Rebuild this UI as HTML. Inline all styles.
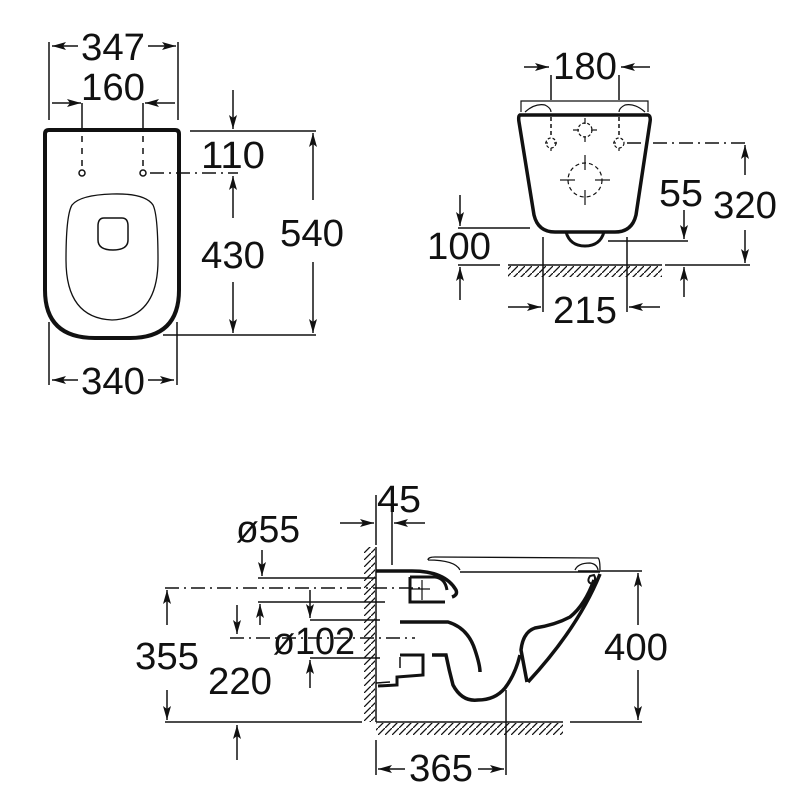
<!DOCTYPE html>
<html><head><meta charset="utf-8"><style>
html,body{margin:0;padding:0;background:#fff}
svg text{font-family:"Liberation Sans",sans-serif;fill:#111}
</style></head><body>
<svg width="800" height="800" viewBox="0 0 800 800" xmlns="http://www.w3.org/2000/svg">
<defs>
<marker id="a" viewBox="0 0 14 8" refX="14" refY="4" markerWidth="14" markerHeight="8" orient="auto-start-reverse" markerUnits="userSpaceOnUse"><path d="M0,0 L14,4 L0,8 L3,4 z" fill="#111"/></marker>
<pattern id="h" width="7" height="7" patternUnits="userSpaceOnUse"><path d="M7,0 L0,7" stroke="#111" stroke-width="1.3"/></pattern>
</defs>
<g stroke="#111" fill="none" stroke-width="1.5">
<!-- TOP LEFT -->
<line x1="49" y1="42" x2="49" y2="120"/><line x1="178" y1="42" x2="178" y2="120"/>
<line x1="78" y1="46" x2="52" y2="46" marker-end="url(#a)"/>
<line x1="148" y1="46" x2="176" y2="46" marker-end="url(#a)"/>
<line x1="52" y1="103" x2="81" y2="103" marker-end="url(#a)"/>
<line x1="175" y1="103" x2="145" y2="103" marker-end="url(#a)"/>
<line x1="82" y1="103" x2="82" y2="128"/><line x1="143" y1="103" x2="143" y2="128"/>
<line x1="82" y1="136" x2="82" y2="168" stroke-dasharray="6,6"/><line x1="143" y1="136" x2="143" y2="168" stroke-dasharray="6,6"/>
<circle cx="82" cy="173" r="3"/><circle cx="143" cy="173" r="3"/>
<line x1="150" y1="173" x2="238" y2="173" stroke-dasharray="14,5,2,5"/>
<path d="M45,134 Q45,130 49,130 L175,130 Q179,130 179,134 L179,290 Q179,338 130,338 L95,338 Q45,338 45,290 Z" stroke-width="4"/>
<path d="M112,194 Q145,193 153,205 Q158,215 158,260 Q158,318 112,320 Q66,318 66,260 Q66,215 72,205 Q80,195 112,194 Z" stroke-width="1.3"/>
<path d="M104,218 L122,218 Q128,218 128,226 L128,240 Q128,250 113,250 Q98,250 98,240 L98,226 Q98,218 104,218 Z" stroke-width="1.5"/>
<line x1="190" y1="131" x2="316" y2="131"/><line x1="163" y1="335" x2="316" y2="335"/>
<line x1="233" y1="90" x2="233" y2="129" marker-end="url(#a)"/>
<line x1="233" y1="218" x2="233" y2="176" marker-end="url(#a)"/>
<line x1="233" y1="282" x2="233" y2="333" marker-end="url(#a)"/>
<line x1="313" y1="200" x2="313" y2="133" marker-end="url(#a)"/>
<line x1="313" y1="262" x2="313" y2="333" marker-end="url(#a)"/>
<line x1="49" y1="322" x2="49" y2="385"/><line x1="177" y1="322" x2="177" y2="385"/>
<line x1="78" y1="380" x2="52" y2="380" marker-end="url(#a)"/>
<line x1="148" y1="380" x2="174" y2="380" marker-end="url(#a)"/>

<!-- TOP RIGHT -->
<line x1="551" y1="75" x2="551" y2="100"/><line x1="619" y1="75" x2="619" y2="100"/>
<line x1="524" y1="67" x2="549" y2="67" marker-end="url(#a)"/>
<line x1="650" y1="67" x2="621" y2="67" marker-end="url(#a)"/>
<path d="M521,112 L521,101 L648,101 L648,112" stroke-width="1.2"/>
<path d="M525,112 Q535,103 545,105 Q551,108 551,112 M645,112 Q635,103 625,105 Q619,108 619,112" stroke-width="1.2"/>
<path d="M520,115 L648,115 Q651,116 650,122 L636,215 Q632,232 615,232 L555,232 Q538,232 534,215 L519,122 Q518,116 520,115 Z" stroke-width="3.5"/>
<path d="M566,232 Q570,246 585,246 Q600,246 604,232" stroke-width="3"/>
<line x1="551" y1="117" x2="551" y2="135" stroke-dasharray="4,3"/><line x1="619" y1="117" x2="619" y2="135" stroke-dasharray="4,3"/>
<g stroke-width="1.2">
<circle cx="551" cy="143" r="5" stroke-dasharray="3,2"/><circle cx="619" cy="143" r="5" stroke-dasharray="3,2"/>
<line x1="545" y1="143" x2="548" y2="143"/><line x1="554" y1="143" x2="557" y2="143"/><line x1="551" y1="148" x2="551" y2="151"/>
<line x1="613" y1="143" x2="616" y2="143"/><line x1="619" y1="148" x2="619" y2="151"/>
<circle cx="585" cy="130" r="7" stroke-dasharray="3,2"/>
<line x1="573" y1="130" x2="579" y2="130"/><line x1="591" y1="130" x2="597" y2="130"/><line x1="585" y1="118" x2="585" y2="124"/><line x1="585" y1="136" x2="585" y2="142"/>
<circle cx="585" cy="180" r="17" stroke-dasharray="4,3"/>
<line x1="560" y1="180" x2="575" y2="180"/><line x1="595" y1="180" x2="610" y2="180"/><line x1="585" y1="155" x2="585" y2="170"/><line x1="585" y1="190" x2="585" y2="205"/>
</g>
<line x1="627" y1="143" x2="750" y2="143" stroke-dasharray="14,5,2,5"/>
<line x1="745" y1="175" x2="745" y2="145" marker-end="url(#a)"/>
<line x1="745" y1="230" x2="745" y2="263" marker-end="url(#a)"/>
<line x1="665" y1="265" x2="750" y2="265"/>
<line x1="684" y1="210" x2="684" y2="239" marker-end="url(#a)"/>
<line x1="608" y1="241" x2="688" y2="241"/>
<line x1="460" y1="195" x2="460" y2="226" marker-end="url(#a)"/>
<line x1="458" y1="228" x2="530" y2="228"/>
<line x1="458" y1="265" x2="500" y2="265"/>
<line x1="460" y1="300" x2="460" y2="267" marker-end="url(#a)"/>
<line x1="684" y1="297" x2="684" y2="267" marker-end="url(#a)"/>
<line x1="508" y1="265" x2="662" y2="265"/>
<rect x="508" y="266" width="154" height="11" fill="url(#h)" stroke="none"/>
<line x1="543" y1="237" x2="543" y2="312"/><line x1="627" y1="237" x2="627" y2="312"/>
<line x1="508" y1="307" x2="541" y2="307" marker-end="url(#a)"/>
<line x1="660" y1="307" x2="629" y2="307" marker-end="url(#a)"/>

<!-- BOTTOM -->
<line x1="376" y1="547" x2="376" y2="722"/>
<rect x="364" y="547" width="11" height="175" fill="url(#h)" stroke="none"/>
<line x1="376" y1="722" x2="563" y2="722"/>
<rect x="376" y="723" width="187" height="12" fill="url(#h)" stroke="none"/>
<line x1="376" y1="495" x2="376" y2="545"/><line x1="392" y1="495" x2="392" y2="565"/>
<line x1="340" y1="523" x2="374" y2="523" marker-end="url(#a)"/>
<line x1="425" y1="523" x2="394" y2="523" marker-end="url(#a)"/>
<line x1="262" y1="550" x2="262" y2="576" marker-end="url(#a)"/>
<line x1="258" y1="578" x2="376" y2="578"/>
<line x1="165" y1="588" x2="420" y2="588" stroke-dasharray="14,5,2,5"/>
<line x1="258" y1="602" x2="385" y2="602"/>
<line x1="167" y1="625" x2="167" y2="590" marker-end="url(#a)"/>
<line x1="167" y1="690" x2="167" y2="720" marker-end="url(#a)"/>
<line x1="165" y1="722" x2="362" y2="722"/>
<line x1="260" y1="625" x2="260" y2="604" marker-end="url(#a)"/>
<line x1="237" y1="605" x2="237" y2="634" marker-end="url(#a)"/>
<line x1="230" y1="638" x2="415" y2="638" stroke-dasharray="14,5,2,5"/>
<line x1="237" y1="760" x2="237" y2="725" marker-end="url(#a)"/>
<line x1="310" y1="590" x2="310" y2="618" marker-end="url(#a)"/>
<line x1="310" y1="620" x2="380" y2="620"/>
<line x1="310" y1="658" x2="380" y2="658"/>
<line x1="310" y1="688" x2="310" y2="660" marker-end="url(#a)"/>
<line x1="578" y1="571" x2="642" y2="571"/>
<line x1="570" y1="722" x2="642" y2="722"/>
<line x1="638" y1="625" x2="638" y2="573" marker-end="url(#a)"/>
<line x1="638" y1="670" x2="638" y2="720" marker-end="url(#a)"/>
<line x1="376" y1="740" x2="376" y2="775"/><line x1="506" y1="690" x2="506" y2="775"/>
<line x1="405" y1="769" x2="378" y2="769" marker-end="url(#a)"/>
<line x1="478" y1="769" x2="504" y2="769" marker-end="url(#a)"/>
<!-- toilet profile -->
<path d="M428,560 Q428,557 435,557 L598,558 Q600,559 600,570 M428,560 Q455,560 460,570 M575,570 Q578,563 590,563 Q597,564 598,570" stroke-width="1.3"/>
<line x1="460" y1="572" x2="600" y2="572" stroke-width="1.5"/>
<path d="M376,571 L412,571 Q445,571 456,590 Q458,595 452,597" stroke-width="3.5"/>
<path d="M410,577 L435,577 Q445,578 447,590 M410,577 L410,602 L445,602" stroke-width="3"/>
<line x1="410" y1="589" x2="430" y2="589" stroke-width="1.2"/>
<line x1="422" y1="580" x2="422" y2="600" stroke-width="1.2"/>
<path d="M400,622 L448,622 Q468,628 475,650 Q480,665 480,672" stroke-width="3.5"/>
<path d="M400,655 L423,655 L423,675 L397,677 L397,685 L378,686" stroke-width="3"/>
<path d="M400,657 L400,668 M376,683 L390,682" stroke-width="1.5"/>
<path d="M432,655 L446,655 Q449,670 453,685 Q462,702 478,700 Q495,700 505,688 Q515,675 520,655" stroke-width="3.5"/>
<path d="M600,574 Q578,628 528,682" stroke-width="3.5"/>
<path d="M594,580 Q585,605 570,617 Q555,625 535,628 Q523,632 521,650 L527,682" stroke-width="3.5"/>
<path d="M590,576 Q586,582 592,584 Q597,580 594,575 Z" stroke-width="2"/>
</g>
<g font-size="38" text-anchor="middle">
<text x="113" y="60" textLength="64" lengthAdjust="spacingAndGlyphs">347</text>
<text x="113" y="100" textLength="64" lengthAdjust="spacingAndGlyphs">160</text>
<text x="233" y="168" textLength="64" lengthAdjust="spacingAndGlyphs">110</text>
<text x="233" y="268" textLength="64" lengthAdjust="spacingAndGlyphs">430</text>
<text x="312" y="246" textLength="64" lengthAdjust="spacingAndGlyphs">540</text>
<text x="113" y="394" textLength="64" lengthAdjust="spacingAndGlyphs">340</text>
<text x="585" y="79" textLength="64" lengthAdjust="spacingAndGlyphs">180</text>
<text x="681" y="206" textLength="44" lengthAdjust="spacingAndGlyphs">55</text>
<text x="745" y="218" textLength="64" lengthAdjust="spacingAndGlyphs">320</text>
<text x="459" y="259" textLength="64" lengthAdjust="spacingAndGlyphs">100</text>
<text x="585" y="323" textLength="64" lengthAdjust="spacingAndGlyphs">215</text>
<text x="399" y="512" textLength="44" lengthAdjust="spacingAndGlyphs">45</text>
<text x="268" y="542" textLength="64" lengthAdjust="spacingAndGlyphs">ø55</text>
<text x="314" y="654" textLength="82" lengthAdjust="spacingAndGlyphs">ø102</text>
<text x="167" y="669" textLength="64" lengthAdjust="spacingAndGlyphs">355</text>
<text x="240" y="694" textLength="64" lengthAdjust="spacingAndGlyphs">220</text>
<text x="636" y="660" textLength="64" lengthAdjust="spacingAndGlyphs">400</text>
<text x="441" y="781" textLength="64" lengthAdjust="spacingAndGlyphs">365</text>
</g>
</svg>
</body></html>
